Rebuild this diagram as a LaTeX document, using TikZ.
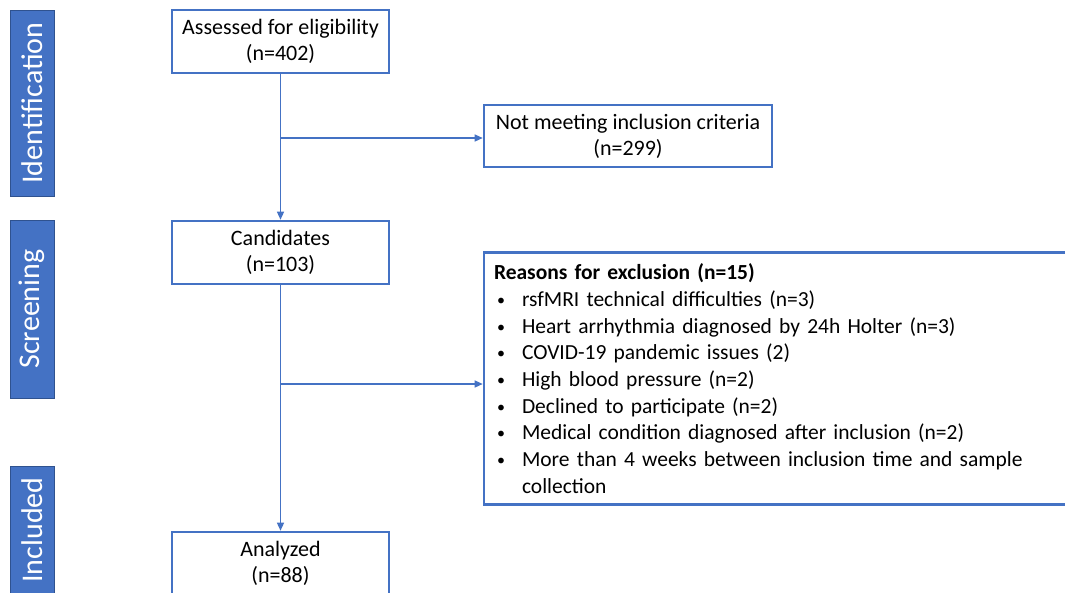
\documentclass[tikz,border=0pt]{standalone}
\usepackage{fontspec}
\setmainfont{Carlito}
\usetikzlibrary{arrows.meta}
\definecolor{acc}{HTML}{4472C4}
\definecolor{accd}{HTML}{2F528F}
\newcommand{\blt}{\hspace*{3pt}\makebox[25pt][l]{\raisebox{1pt}{\fontsize{16}{16}\selectfont\textbullet}}}
\begin{document}
\begin{tikzpicture}[x=1pt,y=-1pt,
 bar/.style={fill=acc,draw=accd,line width=1pt,minimum height=44pt,text=white,font=\fontsize{30}{34}\selectfont,inner sep=0pt,rotate=90},
 box/.style={draw=acc,line width=2.6pt,minimum width=217pt,minimum height=63pt,align=center,font=\fontsize{22}{26}\selectfont,inner sep=0pt},
 conn/.style={draw=acc,line width=1.3pt,-{Triangle[length=8pt,width=7pt]}},
]
\useasboundingbox (0,0) rectangle (1065,592);
\clip (0,0) rectangle (1065,592);
\fill[white] (0,0) rectangle (1065,592);
% phase bars
\node[bar,minimum width=186pt] (idbar) at (32,103) {Identification};
\node[bar,minimum width=178pt] (scbar) at (32,309) {Screening};
\node[bar,minimum width=128pt] (inbar) at (32,530) {Included};
% boxes
\node[box] (assessed) at (280.5,41.5) {Assessed for eligibility\\(n=402)};
\node[box,minimum width=288pt,minimum height=62pt] (notmeet) at (628,136) {Not meeting inclusion criteria\\(n=299)};
\node[box] (cand) at (280.5,252.5) {Candidates\\(n=103)};
\node[box] (analyzed) at (280.5,563.5) {Analyzed\\(n=88)};
\node[draw=acc,line width=2.6pt,text width=576pt,inner xsep=10pt,inner ysep=0pt,minimum height=252pt,align=left,font=\fontsize{21.5}{26.7}\selectfont] (reasons) at (782,378.5) {%
\textbf{Reasons for exclusion (n=15)}\\
\blt rsfMRI technical difficulties (n=3)\\
\blt Heart arrhythmia diagnosed by 24h Holter (n=3)\\
\blt COVID-19 pandemic issues (2)\\
\blt High blood pressure (n=2)\\
\blt Declined to participate (n=2)\\
\blt Medical condition diagnosed after inclusion (n=2)\\
\blt More than 4 weeks between inclusion time and sample\\
\hspace*{28pt}collection};
% connectors
\draw[conn] (assessed.south) -- (cand.north);
\draw[conn] (cand.south) -- (analyzed.north);
\coordinate (c1) at (280.5,138);
\coordinate (c2) at (280.5,384);
\draw[conn] (c1) -- (c1 -| notmeet.west);
\draw[conn] (c2) -- (c2 -| reasons.west);
\end{tikzpicture}
\end{document}
